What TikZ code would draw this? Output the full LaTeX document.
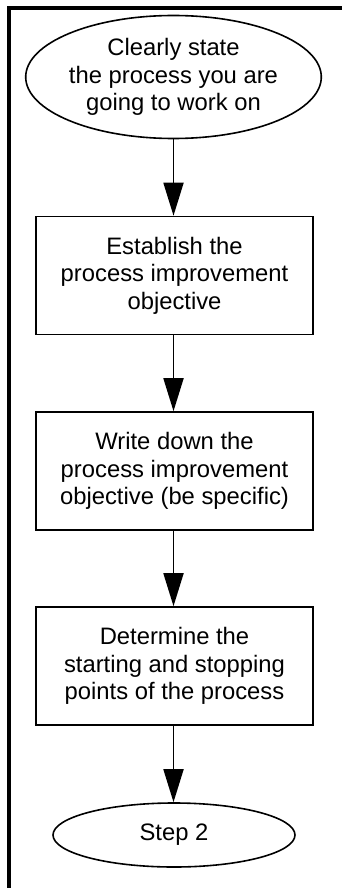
\documentclass[tikz,border=0pt]{standalone}
\usepackage{fontspec}
\setmainfont{Liberation Sans}
\usetikzlibrary{shapes.geometric,arrows.meta}
\begin{document}
\begin{tikzpicture}[x=1pt,y=1pt,
  every node/.style={font=\fontsize{23.8}{27.5}\selectfont, align=center, inner sep=0pt},
  procbox/.style={draw, line width=1.6pt, minimum width=277pt, minimum height=118pt},
  term/.style={draw, ellipse, line width=1.6pt},
  arr/.style={line width=1.8pt, -{Triangle[width=20pt,length=33pt]}}]
\useasboundingbox (0,0) rectangle (342,-888);
\draw[line width=4pt, line join=miter] (9,-888) -- (9,-8) -- (342,-8);
\node[term, minimum width=279pt, minimum height=123pt] (e1) at (173.5,-77) {Clearly state\\the process you are\\going to work on};
\node[procbox] (b1) at (174.5,-275.5) {Establish the\\process improvement\\objective};
\node[procbox] (b2) at (174.5,-471) {Write down the\\process improvement\\objective (be specific)};
\node[procbox] (b3) at (174.5,-666) {Determine the\\starting and stopping\\points of the process};
\node[term, minimum width=242pt, minimum height=64pt] (e2) at (174,-835) {Step 2};
\draw[arr] (e1.south) -- (e1.south |- b1.north);
\draw[arr] (e1.south |- b1.south) -- (e1.south |- b2.north);
\draw[arr] (e1.south |- b2.south) -- (e1.south |- b3.north);
\draw[arr] (e1.south |- b3.south) -- (e1.south |- e2.north);
\end{tikzpicture}
\end{document}
